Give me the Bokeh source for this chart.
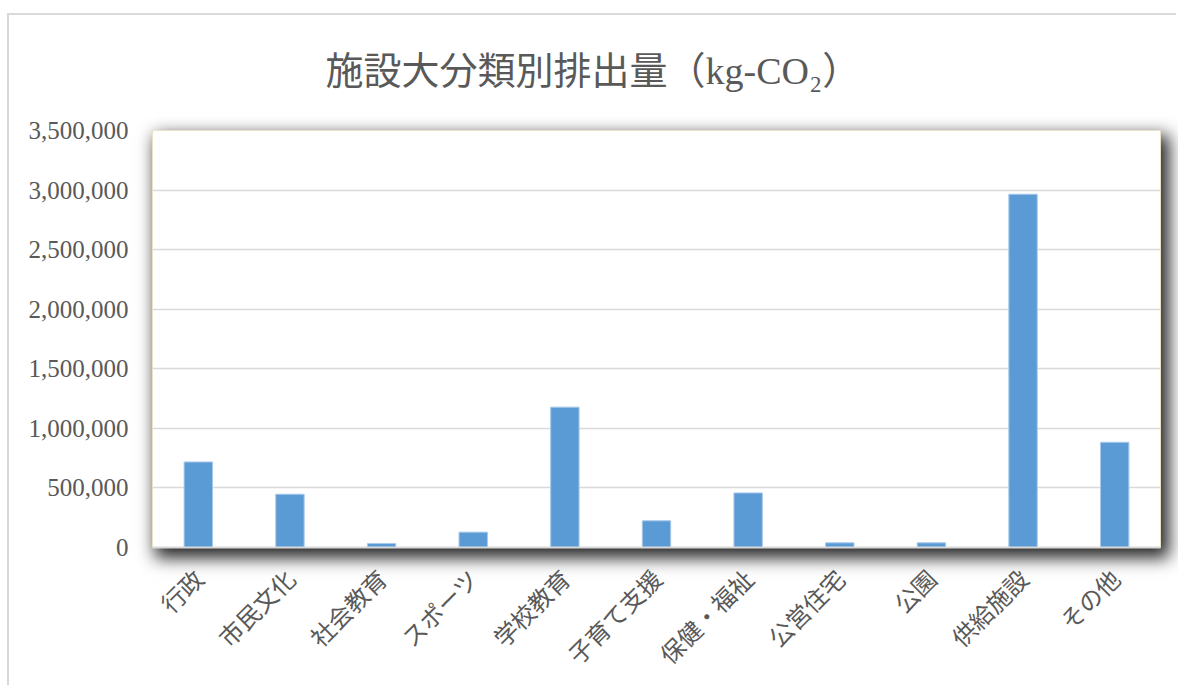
import math

from bokeh.plotting import figure
from bokeh.layouts import column
from bokeh.models import (FactorRange, Range1d, FixedTicker, NumeralTickFormatter, Div)
from bokeh.embed import file_html
from bokeh.resources import INLINE

# 施設大分類ごとの排出量 (kg-CO2)
categories = ["行政", "市民文化", "社会教育", "スポーツ", "学校教育", "子育て支援",
              "保健・福祉", "公営住宅", "公園", "供給施設", "その他"]
emissions = [718000, 447000, 34000, 129000, 1178000, 224000,
             458000, 39000, 39000, 2965000, 883000]
y_ticks = [0, 500000, 1000000, 1500000, 2000000, 2500000, 3000000, 3500000]
title_text = "施設大分類別排出量（kg-CO₂）"

W, H = 1178, 687
# plot-area edges in page pixels
FL, FR, FT, FB = 152, 1160, 130, 547

TEXT = "#595959"
GRID = "#d9d9d9"
BAR = "#5b9bd5"

p = figure(x_range=FactorRange(*categories), y_range=Range1d(0, y_ticks[-1]),
           width=W, height=H, output_backend="svg", toolbar_location=None,
           min_border_left=FL, min_border_right=W - FR,
           min_border_top=FT, min_border_bottom=H - FB,
           title=title_text)
p.styles = {"position": "relative", "z-index": "2"}
p.background_fill_color = None
p.border_fill_color = None
p.outline_line_color = "#ebe1c7"
p.outline_line_width = 1

p.title.align = "left"
p.title.offset = 173
p.title.standoff = 78
p.title.text_font = "Liberation Serif, Noto Sans CJK JP"
p.title.text_font_size = "38px"
p.title.text_font_style = "normal"
p.title.text_color = TEXT

p.vbar(x=categories, top=emissions, width=0.31,
       fill_color=BAR, line_color="#a9c8ea", line_width=1)

# y axis
p.yaxis.ticker = FixedTicker(ticks=y_ticks)
p.yaxis.formatter = NumeralTickFormatter(format="0,0")
p.yaxis.axis_line_color = None
p.yaxis.major_tick_line_color = None
p.yaxis.minor_tick_line_color = None
p.yaxis.major_label_standoff = 18
p.yaxis.major_label_text_font = "Liberation Serif"
p.yaxis.major_label_text_font_size = "25px"
p.yaxis.major_label_text_color = TEXT

# x axis
p.xaxis.axis_line_color = GRID
p.xaxis.axis_line_width = 2
p.xaxis.major_tick_line_color = None
p.xaxis.minor_tick_line_color = None
p.xaxis.major_label_orientation = math.pi / 4
p.xaxis.major_label_standoff = 20
p.xaxis.major_label_text_font = "Noto Sans CJK JP"
p.xaxis.major_label_text_font_size = "24px"
p.xaxis.major_label_text_color = TEXT

p.xgrid.grid_line_color = None
p.ygrid.grid_line_color = GRID
p.ygrid.grid_line_width = 1.5

# white card with a drop shadow behind the plot area
card = Div(text="", margin=0, styles={
    "position": "absolute", "left": f"{FL}px", "top": f"{FT}px",
    "width": f"{FR - FL}px", "height": f"{FB - FT}px",
    "background-color": "white",
    "box-shadow": "6px 8px 16px 3px rgba(0,0,0,0.85)",
    "z-index": "1",
})
# outer chart border (left and top edges)
frame_edge = Div(text="", margin=0, styles={
    "position": "absolute", "left": "7px", "top": "13px",
    "width": f"{W - 9}px", "height": f"{H - 15}px",
    "border-left": f"2px solid {GRID}", "border-top": f"2px solid {GRID}",
    "background-color": "white", "z-index": "0",
})

layout = column(frame_edge, card, p)
open("out.html", "w").write(file_html(layout, INLINE))
